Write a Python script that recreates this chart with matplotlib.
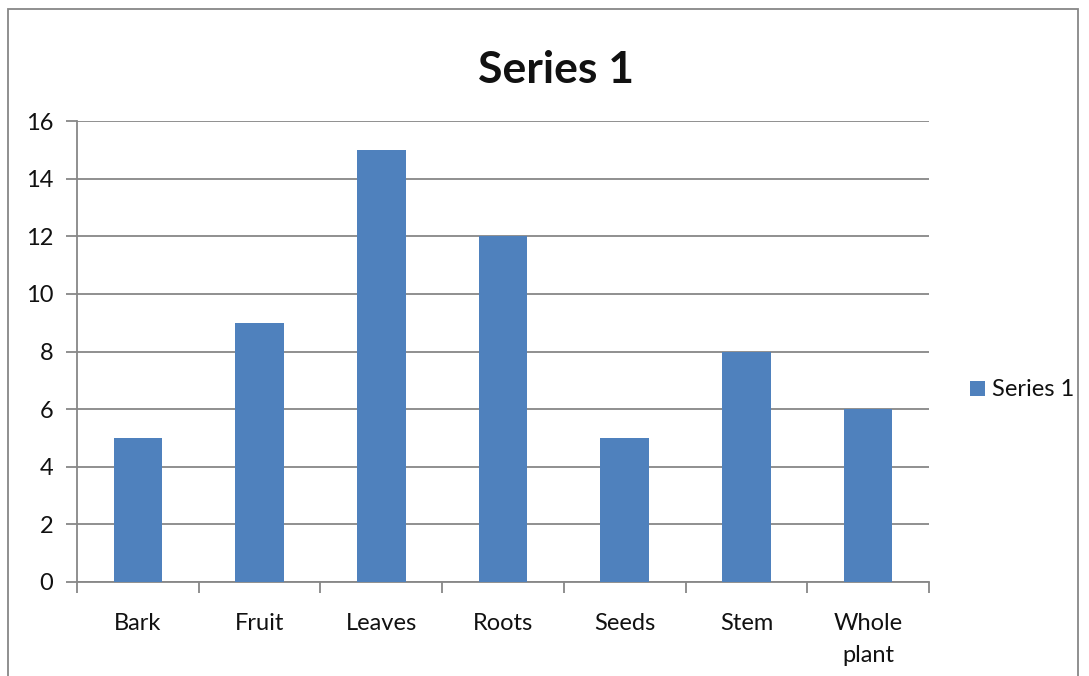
import matplotlib.pyplot as plt
from matplotlib.patches import Rectangle

categories = ['Bark', 'Fruit', 'Leaves', 'Roots', 'Seeds', 'Stem', 'Whole\nplant']
values = [5, 9, 15, 12, 5, 8, 6]
series_name = 'Series 1'

plt.rcParams['font.family'] = ['Lato', 'DejaVu Sans']

bar_color = '#4F81BD'
line_color = '#878787'

fig = plt.figure(figsize=(10.89, 6.76), dpi=100)

# outer chart border
fig.patches.append(Rectangle((8 / 1089, -0.1), 1070 / 1089, 1.1 - 9 / 676,
                             transform=fig.transFigure, fill=False,
                             edgecolor=line_color, linewidth=1.3))

ax = fig.add_axes([77 / 1089, 94 / 676, 852 / 1089, 461 / 676])

x = list(range(len(categories)))
ax.bar(x, values, width=0.4, color=bar_color, label=series_name, zorder=3)

ax.set_xlim(-0.5, len(categories) - 0.5)
ax.set_ylim(0, 16)
ax.set_yticks(range(0, 17, 2))
ax.yaxis.grid(True, color=line_color, linewidth=1.3, zorder=0)

ax.set_xticks(x)
ax.set_xticklabels(categories, fontsize=17, linespacing=1.7, color='#111111')
ax.set_xticks([i - 0.5 for i in range(len(categories) + 1)], minor=True)
ax.tick_params(axis='x', which='major', length=0, pad=22)
ax.tick_params(axis='x', which='minor', length=8, width=1.3, color=line_color)
ax.tick_params(axis='y', length=8, width=1.3, color=line_color, labelsize=17,
               labelcolor='#111111', pad=9)

for side in ['top', 'right']:
    ax.spines[side].set_visible(False)
for side in ['left', 'bottom']:
    ax.spines[side].set_color(line_color)
    ax.spines[side].set_linewidth(1.3)

fig.text(556 / 1089, 1 - 70 / 676, series_name, ha='center', va='center',
         fontsize=32, fontweight='bold', color='#111111')

fig.legend(loc='center left', bbox_to_anchor=(949 / 1089, 1 - 390 / 676),
           frameon=False, fontsize=17, handlelength=0.62, handleheight=0.62,
           handletextpad=0.3, labelcolor='#111111')

fig.savefig('out.png', dpi=100)
